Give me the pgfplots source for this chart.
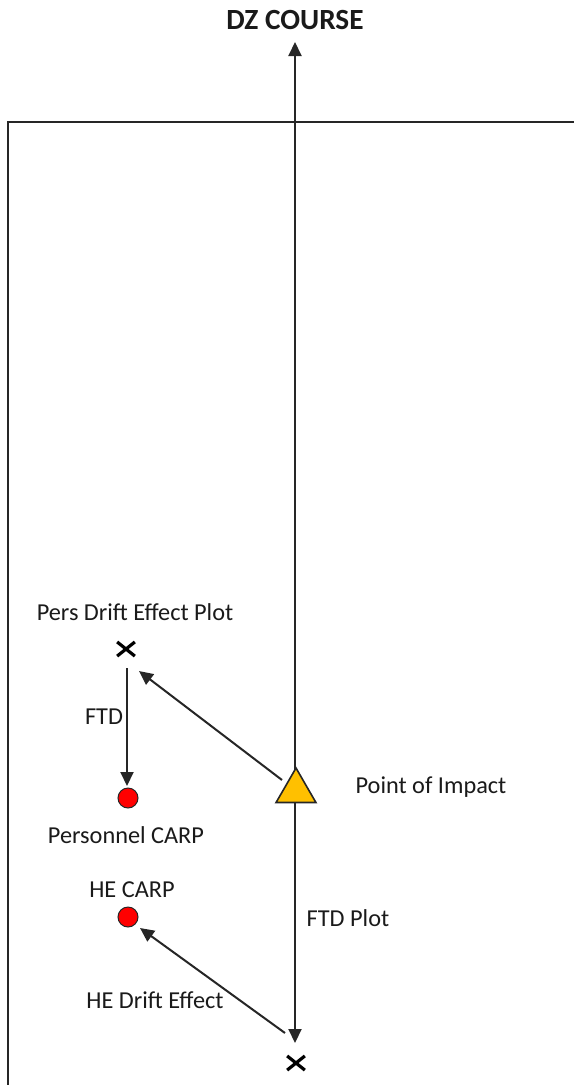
\documentclass[border=0pt]{standalone}
\usepackage{pgfplots}
\pgfplotsset{compat=1.18}
\usepackage{fontspec}
\setmainfont{Carlito}
\usetikzlibrary{arrows.meta}
\definecolor{lin}{HTML}{262626}
\definecolor{txt}{HTML}{1A1A1A}
\definecolor{gold}{HTML}{FFC000}
\tikzset{lbl/.style={font=\fontsize{12.2}{14}\selectfont, text=txt, inner sep=0pt}}
\begin{document}
\begin{tikzpicture}
\begin{axis}[width=287bp, height=542.5bp, scale only axis,
  xmin=0, xmax=574, ymin=0, ymax=1085, y dir=reverse,
  hide axis, clip=true]
% invisible extent of the full picture
\addplot[draw=none, forget plot] coordinates {(0,0) (574,1085)};
% frame
\addplot[lin, line width=1bp] coordinates {(8,1085) (8,122) (574,122)};
% DZ course line
\addplot[lin, line width=1bp, -{Triangle[length=7bp,width=6.5bp]}] coordinates {(295,791) (295,42)};
% FTD plot line
\addplot[lin, line width=1bp, -{Triangle[length=7bp,width=6.5bp]}] coordinates {(295,791) (295,1043)};
% Pers drift effect
\addplot[lin, line width=1bp, -{Triangle[length=7bp,width=6.5bp]}] coordinates {(282,780) (139,671)};
% FTD
\addplot[lin, line width=1bp, -{Triangle[length=7bp,width=6.5bp]}] coordinates {(127,668) (127,786)};
% HE drift effect
\addplot[lin, line width=1bp, -{Triangle[length=7bp,width=6.5bp]}] coordinates {(285,1033) (140,928)};
% crosses
\addplot[only marks, mark=x, mark size=6.25bp, mark options={yscale=0.8, line width=1.6bp, draw=black}] coordinates {(126,649) (296,1063)};
% red dots
\addplot[only marks, mark=*, mark size=5bp, mark options={fill=red, draw=lin, line width=0.5bp}] coordinates {(128,798) (128,917)};
% triangle
\addplot[only marks, mark=triangle*, mark size=11.5bp, mark options={fill=gold, draw=lin, line width=0.8bp}] coordinates {(296,791)};
% labels
\node[lbl, font=\fontsize{14.7}{17}\selectfont\bfseries] at (axis cs:295,20) {DZ COURSE};
\node[lbl] at (axis cs:135,612) {Pers Drift Effect Plot};
\node[lbl] at (axis cs:104,717) {FTD};
\node[lbl] at (axis cs:126,835) {Personnel CARP};
\node[lbl] at (axis cs:431,787) {Point of Impact};
\node[lbl] at (axis cs:132,890) {HE CARP};
\node[lbl] at (axis cs:348,918) {FTD Plot};
\node[lbl] at (axis cs:155,1000) {HE Drift Effect};
\end{axis}
\end{tikzpicture}
\end{document}
